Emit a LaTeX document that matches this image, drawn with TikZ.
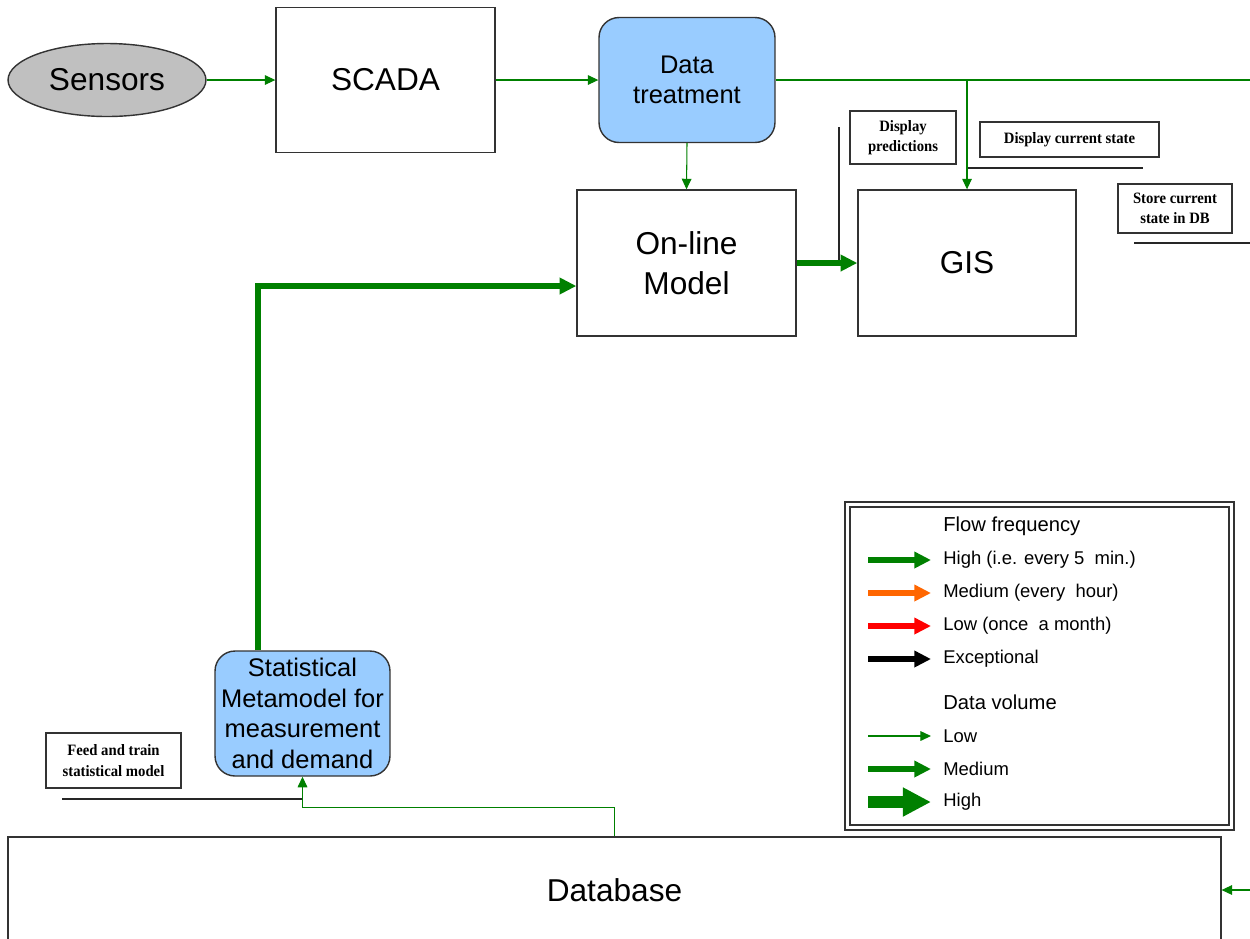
\documentclass[tikz,border=0pt]{standalone}
\usepackage{fontspec}
\setmainfont{Liberation Sans}
\newfontfamily\notefont[FakeStretch=0.93]{Liberation Serif}
\usetikzlibrary{shapes.geometric,arrows.meta}
\definecolor{flowgreen}{RGB}{0,128,0}
\definecolor{floworange}{RGB}{255,102,0}
\definecolor{sensgray}{RGB}{192,192,192}
\definecolor{taskblue}{RGB}{153,204,255}
\begin{document}
\begin{tikzpicture}[x=0.02cm,y=-0.02cm,
		block/.style={draw=black!80,line width=0.8pt,align=center,inner sep=0pt,font=\fontsize{18}{22.7}\selectfont},
		task/.style={block,fill=taskblue,rounded corners=0.4cm,font=\fontsize{14.5}{17.4}\selectfont},
		note/.style={draw=black!80,line width=0.8pt,align=center,inner sep=0pt,font=\notefont\bfseries\fontsize{9}{11.5}\selectfont},
		legtext/.style={anchor=west,inner sep=0pt,font=\fontsize{10.5}{12}\selectfont},
		leghead/.style={anchor=west,inner sep=0pt,font=\fontsize{11.5}{13}\selectfont},
		lowvol/.style={draw=flowgreen,line width=0.6pt,-{Triangle[length=6pt,width=5.5pt]}},
		medvol/.style={draw=flowgreen,line width=3pt,-{Triangle[length=9.5pt,width=9pt]}},
		highvol/.style={draw=flowgreen,line width=6.6pt,-{Triangle[length=16pt,width=15.5pt]}},
		leader/.style={draw=black!85,line width=0.6pt}]
		\clip (0,0) rectangle (1250,938);
		%Knoten
		\node[block,ellipse,fill=sensgray,minimum width=3.96cm,minimum height=1.46cm] (sensors) at (107,80) {Sensors};
		\node[block,minimum width=4.38cm,minimum height=2.9cm] (scada) at (385.5,80) {SCADA};
		\node[task,minimum width=3.52cm,minimum height=2.5cm] (treat) at (687,80) {Data\\treatment};
		\node[block,minimum width=4.38cm,minimum height=2.92cm] (online) at (686.5,263) {On-line\\Model};
		\node[block,minimum width=4.36cm,minimum height=2.92cm] (gis) at (967,263) {GIS};
		\node[task,minimum width=3.5cm,minimum height=2.5cm] (stat) at (302.5,713.5) {Statistical\\Metamodel for\\measurement\\and demand};
		\node[block,minimum width=24.26cm,minimum height=2.12cm] (db) at (614.5,890) {Database};
		%Hinweise
		\node[note,minimum width=2.12cm,minimum height=1.06cm] (pred) at (903,137.5) {Display\\predictions};
		\node[note,minimum width=3.58cm,minimum height=0.7cm] (curstate) at (1069.5,139.5) {Display current state};
		\node[note,minimum width=2.28cm,minimum height=0.98cm] (store) at (1175,208.5) {Store current\\state in DB};
		\node[note,minimum width=2.7cm,minimum height=1.1cm] (feed) at (113.5,760.5) {Feed and train\\statistical model};
		\draw[leader] (839,127) -- (839,262);
		\draw[leader] (968,168) -- (1143,168);
		\draw[leader] (1134,243) -- (1260,243);
		\draw[leader] (62,799) -- (303,799);
		%Verbindungen
		\coordinate (split) at (treat.east -| gis.north);
		\coordinate (exit) at (1260,80);
		\coordinate (dbin) at (1260,890);
		\draw[lowvol] (sensors) -- (scada);
		\draw[lowvol] (scada) -- (treat);
		\draw[lowvol] (treat.south) -- (online.north);
		\draw[draw=flowgreen,line width=0.6pt] (treat.east) -- (exit);
		\draw[lowvol] (split) -- (gis.north);
		\draw[medvol] (online.east) -- (gis.west);
		\draw[medvol] ([xshift=-0.89cm]stat.north) |- ([yshift=-0.46cm]online.west);
		\draw[lowvol] (db.north) -- ++(0,-29) -| (stat.south);
		\draw[lowvol] (dbin) -- (db.east);
		%Legende
		\draw[draw=black!80,line width=0.9pt] (845,502) rectangle (1234,830);
		\draw[draw=black!80,line width=0.9pt] (850,507) rectangle (1229,825);
		\node[leghead] (freqhead) at (943,526) {Flow frequency};
		\foreach \y/\col/\txt in {560/flowgreen/High (i.e. every 5\ \ min.),593/floworange/Medium (every\ \ hour),626/red/Low (once\ \ a month),659/black/Exceptional}
		{
			\draw[medvol,draw=\col] (868,\y) -- (931,\y);
			\node[legtext] (freq\y) at (943,\y) {\txt};
		}
		\node[leghead] (volhead) at (943,702) {Data volume};
		\foreach \y/\sty/\txt in {736/lowvol/Low,769/medvol/Medium,802/highvol/High}
		{
			\draw[\sty] (868,\y) -- (931,\y);
			\node[legtext] (vol\y) at (943,\y) {\txt};
		}
	\end{tikzpicture}
\end{document}
